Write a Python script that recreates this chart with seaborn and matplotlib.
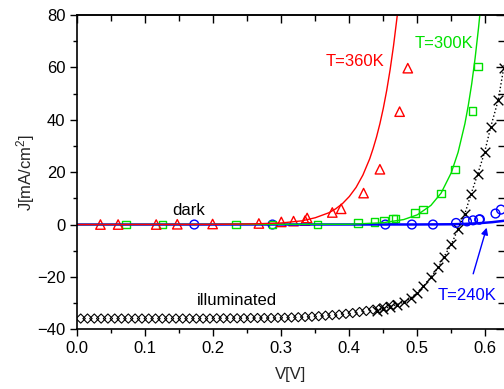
import numpy as np
import pandas as pd
import matplotlib
matplotlib.use("Agg")
import matplotlib.pyplot as plt
import seaborn as sns
from matplotlib.ticker import MultipleLocator, NullFormatter

# ---- data ----
# T=360K (red triangles + fit line)
v_360 = [0.034, 0.060, 0.116, 0.147, 0.199, 0.267, 0.300, 0.318, 0.335, 0.338,
         0.375, 0.388, 0.421, 0.445, 0.474, 0.486]
j_360 = [0.0, 0.0, 0.0, 0.1, 0.2, 0.4, 1.0, 1.3, 1.5, 2.5,
         4.6, 6.0, 12.0, 21.1, 43.1, 59.7]
v_360_fit = [0.0, 0.20, 0.26, 0.30, 0.33, 0.35, 0.37, 0.38, 0.39, 0.40, 0.41, 0.42,
             0.43, 0.435, 0.44, 0.445, 0.45, 0.455, 0.46, 0.465, 0.47, 0.475]
j_360_fit = [0.0, 0.05, 0.25, 0.6, 1.4, 2.6, 4.5, 6.0, 8.0, 10.7, 14.2, 18.9,
             25.1, 29.0, 33.4, 38.5, 44.4, 51.2, 59.1, 68.2, 78.7, 90.0]

# T=300K (green squares + fit line)
v_300 = [0.072, 0.125, 0.233, 0.287, 0.353, 0.413, 0.437, 0.451, 0.464, 0.468,
         0.497, 0.508, 0.535, 0.555, 0.581, 0.589]
j_300 = [0.0, 0.0, 0.0, 0.0, 0.0, 0.6, 1.0, 1.5, 2.0, 2.3,
         4.3, 5.7, 11.9, 21.0, 43.4, 60.4]
v_300_fit = [0.0, 0.40, 0.45, 0.48, 0.50, 0.52, 0.535, 0.55, 0.56, 0.57,
             0.575, 0.58, 0.585, 0.59, 0.595]
j_300_fit = [0.0, 0.1, 0.7, 1.9, 3.7, 7.3, 12.0, 19.8, 27.6, 38.5,
             45.5, 53.7, 63.5, 75.0, 88.0]

# T=240K (blue circles + fit line)
v_240 = [0.172, 0.287, 0.453, 0.492, 0.523, 0.557, 0.573, 0.582, 0.591, 0.592,
         0.615, 0.623]
j_240 = [0.0, 0.0, 0.0, 0.0, 0.0, 0.6, 1.2, 1.6, 1.9, 2.0, 4.2, 5.7]
v_240_fit = [0.0, 0.50, 0.55, 0.57, 0.59, 0.61, 0.63]
j_240_fit = [0.0, 0.02, 0.1, 0.25, 0.5, 0.9, 1.5]

# illuminated: diamonds (low bias) and crosses with dotted line (high bias)
v_ill_d = [0.005, 0.015, 0.025, 0.035, 0.045, 0.055, 0.065, 0.075, 0.085, 0.095,
           0.105, 0.115, 0.125, 0.135, 0.145, 0.155, 0.165, 0.175, 0.185, 0.195,
           0.205, 0.215, 0.225, 0.235, 0.245, 0.255, 0.265, 0.275, 0.285, 0.295,
           0.305, 0.315, 0.325, 0.335, 0.345, 0.355, 0.365, 0.375, 0.385, 0.395,
           0.405, 0.415, 0.425, 0.435, 0.445, 0.455, 0.465]
j_ill_d = [-35.9, -35.9, -35.9, -35.9, -35.9, -35.9, -35.9, -35.9, -35.9, -35.9,
           -35.9, -35.9, -35.9, -35.9, -35.9, -35.9, -35.9, -35.9, -35.9, -35.9,
           -35.8, -35.8, -35.8, -35.8, -35.8, -35.7, -35.7, -35.7, -35.7, -35.6,
           -35.6, -35.5, -35.4, -35.3, -35.2, -35.0, -34.8, -34.6, -34.4, -34.1,
           -33.8, -33.4, -33.0, -32.5, -32.0, -31.4, -30.7]
v_ill_x = [0.440, 0.450, 0.460, 0.470, 0.480, 0.490, 0.499, 0.509, 0.520, 0.531,
           0.539, 0.550, 0.560, 0.570, 0.579, 0.589, 0.599, 0.608, 0.619, 0.627, 0.636]
j_ill_x = [-33.0, -32.2, -31.4, -30.6, -29.6, -28.1, -26.2, -23.6, -20.0, -16.4,
           -12.4, -7.6, -1.7, 4.2, 11.6, 19.4, 27.6, 37.3, 47.5, 59.7, 72.0]

# ---- figure ----
sns.set_style("ticks")
plt.rcParams['font.family'] = ['Liberation Sans', 'DejaVu Sans']
plt.rcParams['mathtext.default'] = 'regular'

fig = plt.figure(figsize=(5.04, 3.89), dpi=100)
ax = fig.add_axes([0.1534, 0.1535, 0.8466, 0.8079])

RED, GREEN, BLUE = '#ff0000', '#00e000', '#0000ff'

# fit lines
sns.lineplot(x=v_240_fit, y=j_240_fit, color=BLUE, lw=1.8, sort=False, ax=ax)
sns.lineplot(x=v_300_fit, y=j_300_fit, color=GREEN, lw=1.0, sort=False, ax=ax)
sns.lineplot(x=v_360_fit, y=j_360_fit, color=RED, lw=1.0, sort=False, ax=ax)
sns.lineplot(x=v_ill_x, y=j_ill_x, color='black', lw=1.0, ls=':', sort=False, ax=ax)

# measured points
sns.scatterplot(x=v_ill_d, y=j_ill_d, marker='D', s=22, facecolor='none',
                edgecolor='black', linewidth=0.8, ax=ax)
sns.scatterplot(x=v_ill_x, y=j_ill_x, marker='x', s=48, color='black',
                linewidth=1.0, ax=ax)
sns.scatterplot(x=v_240, y=j_240, marker='o', s=40, facecolor='none',
                edgecolor=BLUE, linewidth=1.0, ax=ax)
sns.scatterplot(x=v_300, y=j_300, marker='s', s=30, facecolor='none',
                edgecolor=GREEN, linewidth=1.0, ax=ax)
sns.scatterplot(x=v_360, y=j_360, marker='^', s=46, facecolor='none',
                edgecolor=RED, linewidth=1.0, ax=ax)

# labels on the plot
ax.text(0.409, 62.2, 'T=360K', color=RED, fontsize=12, ha='center', va='center')
ax.text(0.539, 69.2, 'T=300K', color=GREEN, fontsize=12, ha='center', va='center')
ax.text(0.164, 5.2, 'dark', color='black', fontsize=12, ha='center', va='center')
ax.text(0.235, -29.0, 'illuminated', color='black', fontsize=12, ha='center', va='center')
ax.annotate('T=240K', xy=(0.602, -1.2), xytext=(0.573, -27.0), color=BLUE,
            fontsize=12, ha='center', va='center',
            arrowprops=dict(arrowstyle='-|>', color=BLUE, lw=1.0,
                            mutation_scale=10, shrinkA=8, shrinkB=0))

ax.set_xlim(0, 0.6275)
ax.set_ylim(-40, 80)
ax.xaxis.set_major_locator(MultipleLocator(0.1))
ax.xaxis.set_minor_locator(MultipleLocator(0.05))
ax.yaxis.set_major_locator(MultipleLocator(20))
ax.yaxis.set_minor_locator(MultipleLocator(10))
ax.xaxis.set_major_formatter(plt.FuncFormatter(lambda v, p: f'{v:.1f}'))

ax.tick_params(axis='both', which='major', labelsize=12, length=5, width=1,
               direction='out', color='black', labelcolor='black')
ax.tick_params(axis='both', which='minor', length=3, width=1,
               direction='out', color='black')

# inward ticks on top and right (no labels)
top = ax.secondary_xaxis('top')
right = ax.secondary_yaxis('right')
top.xaxis.set_major_locator(MultipleLocator(0.1))
top.xaxis.set_minor_locator(MultipleLocator(0.05))
right.yaxis.set_major_locator(MultipleLocator(20))
right.yaxis.set_minor_locator(MultipleLocator(10))
for sec in (top, right):
    sec.tick_params(which='major', direction='in', length=6, width=1, color='black')
    sec.tick_params(which='minor', direction='in', length=4, width=1, color='black')
top.xaxis.set_major_formatter(NullFormatter())
right.yaxis.set_major_formatter(NullFormatter())
top.spines['top'].set_linewidth(1.2)
right.spines['right'].set_visible(False)

ax.spines['right'].set_visible(False)
for s in ['left', 'bottom', 'top']:
    ax.spines[s].set_linewidth(1.2)
    ax.spines[s].set_color('black')

ax.set_xlabel('V[V]', fontsize=12, labelpad=8)
ax.set_ylabel('J[mA/cm$^2$]', fontsize=12, labelpad=0)

fig.savefig('out.png', dpi=100)
